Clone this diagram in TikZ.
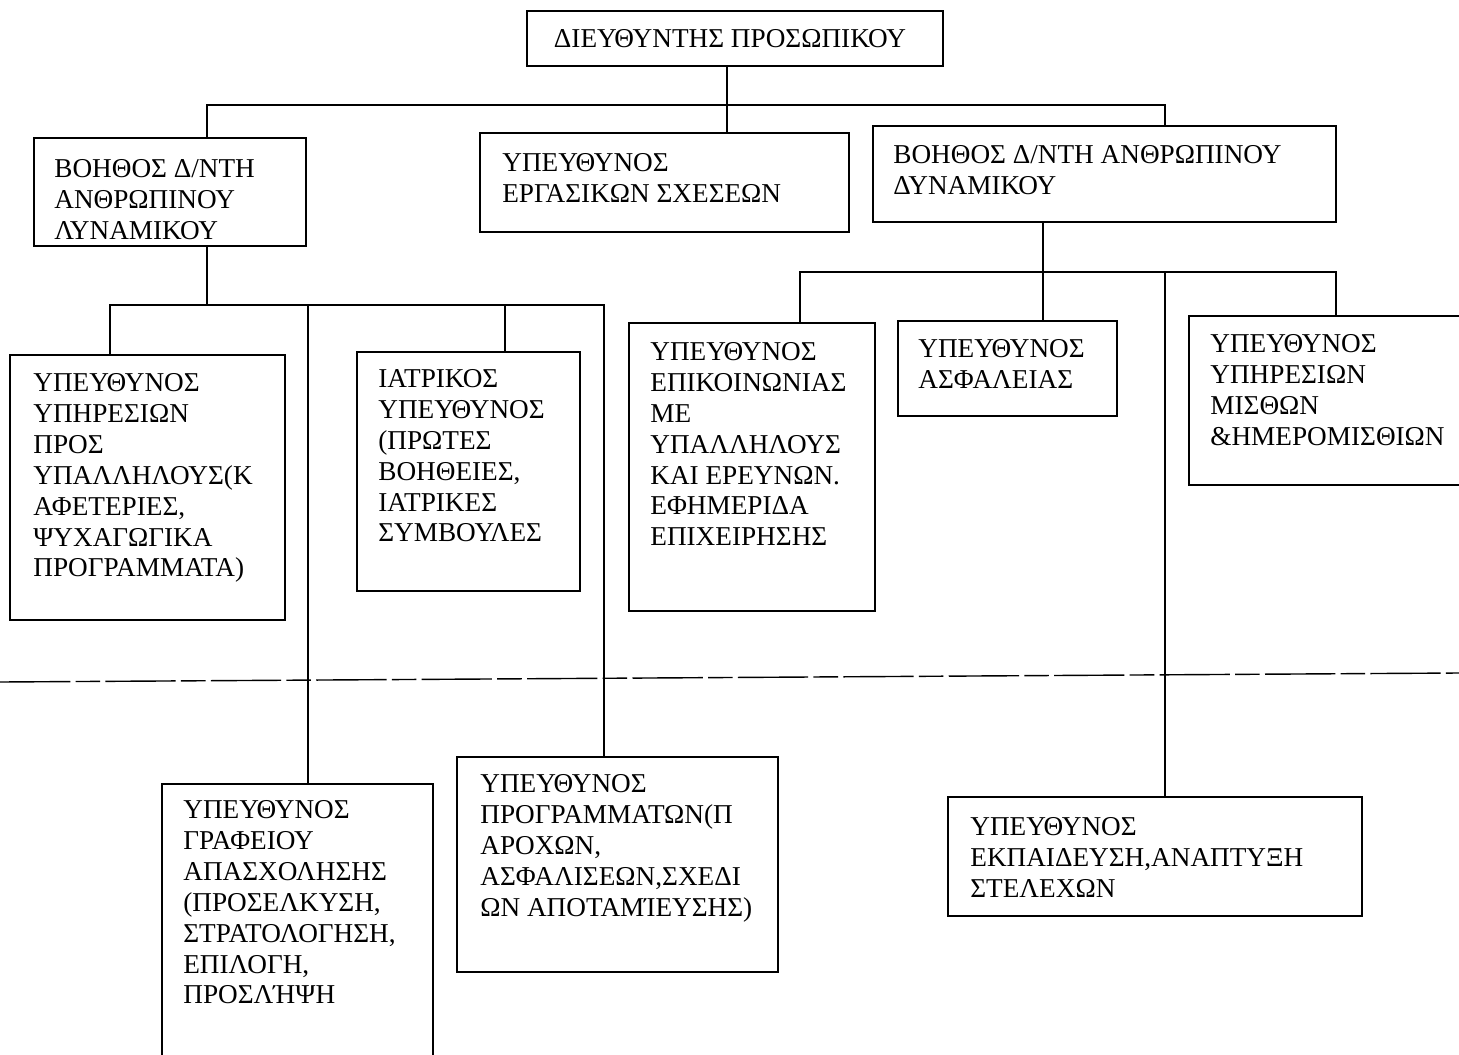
\documentclass[tikz,border=0pt]{standalone}
\usepackage{fontspec}
\setmainfont{Liberation Serif}
\begin{document}
\begin{tikzpicture}[x=0.02cm,y=-0.02cm,
  box/.style={draw,line width=1.1pt,rectangle,inner sep=0pt},
  lbl/.style={anchor=north west,inner sep=0pt,align=left,font=\fontsize{15.5}{17.6}\selectfont},
  conn/.style={line width=0.8pt}]
\useasboundingbox (0,0) rectangle (1459,1054);
\clip (0,0) rectangle (1459,1054);
% boxes (name, centre, size)
\node[box,minimum width=416*0.02cm,minimum height=55*0.02cm] (top) at (735,38.5) {};
\node[box,minimum width=272*0.02cm,minimum height=108*0.02cm] (a1) at (170,192) {};
\node[box,minimum width=369*0.02cm,minimum height=99*0.02cm] (a2) at (664.5,182.5) {};
\node[box,minimum width=463*0.02cm,minimum height=96*0.02cm] (a3) at (1104.5,174) {};
\node[box,minimum width=275*0.02cm,minimum height=265*0.02cm] (p1) at (147.5,487.5) {};
\node[box,minimum width=271*0.02cm,minimum height=290*0.02cm] (p2) at (297.5,929) {};
\node[box,minimum width=223*0.02cm,minimum height=239*0.02cm] (p3) at (468.5,471.5) {};
\node[box,minimum width=321*0.02cm,minimum height=215*0.02cm] (p4) at (617.5,864.5) {};
\node[box,minimum width=246*0.02cm,minimum height=288*0.02cm] (q1) at (752,467) {};
\node[box,minimum width=219*0.02cm,minimum height=95*0.02cm] (q2) at (1007.5,368.5) {};
\node[box,minimum width=414*0.02cm,minimum height=119*0.02cm] (q3) at (1155,856.5) {};
\node[box,minimum width=280*0.02cm,minimum height=169*0.02cm] (q4) at (1329,400.5) {};
% labels
\node[font=\fontsize{15.5}{17.6}\selectfont,inner sep=0pt] (ttop) at (730,39) {ΔΙΕΥΘΥΝΤΗΣ ΠΡΟΣΩΠΙΚΟΥ};
\node[lbl] (ta1) at (54,159) {ΒΟΗΘΟΣ Δ/ΝΤΗ\\ΑΝΘΡΩΠΙΝΟΥ\\ΛΥΝΑΜΙΚΟΥ};
\node[lbl] (ta2) at (502,153) {ΥΠΕΥΘΥΝΟΣ\\ΕΡΓΑΣΙΚΩΝ ΣΧΕΣΕΩΝ};
\node[lbl] (ta3) at (893,145) {ΒΟΗΘΟΣ Δ/ΝΤΗ ΑΝΘΡΩΠΙΝΟΥ\\ΔΥΝΑΜΙΚΟΥ};
\node[lbl] (tp1) at (33,373) {ΥΠΕΥΘΥΝΟΣ\\ΥΠΗΡΕΣΙΩΝ\\ΠΡΟΣ\\ΥΠΑΛΛΗΛΟΥΣ(Κ\\ΑΦΕΤΕΡΙΕΣ,\\ΨΥΧΑΓΩΓΙΚΑ\\ΠΡΟΓΡΑΜΜΑΤΑ)};
\node[lbl] (tp3) at (378,369) {ΙΑΤΡΙΚΟΣ\\ΥΠΕΥΘΥΝΟΣ\\(ΠΡΩΤΕΣ\\ΒΟΗΘΕΙΕΣ,\\ΙΑΤΡΙΚΕΣ\\ΣΥΜΒΟΥΛΕΣ};
\node[lbl] (tq1) at (650,342) {ΥΠΕΥΘΥΝΟΣ\\ΕΠΙΚΟΙΝΩΝΙΑΣ\\ΜΕ\\ΥΠΑΛΛΗΛΟΥΣ\\ΚΑΙ ΕΡΕΥΝΩΝ.\\ΕΦΗΜΕΡΙΔΑ\\ΕΠΙΧΕΙΡΗΣΗΣ};
\node[lbl] (tq2) at (918,339) {ΥΠΕΥΘΥΝΟΣ\\ΑΣΦΑΛΕΙΑΣ};
\node[lbl] (tq4) at (1210,334) {ΥΠΕΥΘΥΝΟΣ\\ΥΠΗΡΕΣΙΩΝ\\ΜΙΣΘΩΝ\\\&ΗΜΕΡΟΜΙΣΘΙΩΝ};
\node[lbl] (tp2) at (183,800) {ΥΠΕΥΘΥΝΟΣ\\ΓΡΑΦΕΙΟΥ\\ΑΠΑΣΧΟΛΗΣΗΣ\\(ΠΡΟΣΕΛΚΥΣΗ,\\ΣΤΡΑΤΟΛΟΓΗΣΗ,\\ΕΠΙΛΟΓΗ,\\ΠΡΟΣΛΉΨΗ};
\node[lbl] (tp4) at (480,774) {ΥΠΕΥΘΥΝΟΣ\\ΠΡΟΓΡΑΜΜΑΤΩΝ(Π\\ΑΡΟΧΩΝ,\\ΑΣΦΑΛΙΣΕΩΝ,ΣΧΕΔΙ\\ΩΝ ΑΠΟΤΑΜΊΕΥΣΗΣ)};
\node[lbl] (tq3) at (970,817) {ΥΠΕΥΘΥΝΟΣ\\ΕΚΠΑΙΔΕΥΣΗ,ΑΝΑΠΤΥΞΗ\\ΣΤΕΛΕΧΩΝ};
% junction coordinates
\coordinate (t0) at (727,105);
\coordinate (t1) at (207,105);
\coordinate (t3) at (1165,105);
\coordinate (l0) at (207,305);
\coordinate (l1) at (110,305);
\coordinate (l2) at (308,305);
\coordinate (l3) at (505,305);
\coordinate (l4) at (604,305);
\coordinate (r0) at (1043,272);
\coordinate (r1) at (800,272);
\coordinate (r3) at (1165,272);
\coordinate (r4) at (1336,272);
% connectors
\draw[conn] (t0 |- top.south) -- (t0 |- a2.north);
\draw[conn] (t1 |- a1.north) -- (t1) -- (t3) -- (t3 |- a3.north);
\draw[conn] (l0 |- a1.south) -- (l0);
\draw[conn] (l1 |- p1.north) -- (l1) -- (l4) -- (l4 |- p4.north);
\draw[conn] (l2) -- (l2 |- p2.north);
\draw[conn] (l3) -- (l3 |- p3.north);
\draw[conn] (r0 |- a3.south) -- (r0 |- q2.north);
\draw[conn] (r1 |- q1.north) -- (r1) -- (r4) -- (r4 |- q4.north);
\draw[conn] (r3) -- (r3 |- q3.north);
% page-break line
\draw[line width=0.8pt,dash pattern=on 40pt off 3pt on 14pt off 3pt] (0,682) -- (1459,673);
\end{tikzpicture}
\end{document}
